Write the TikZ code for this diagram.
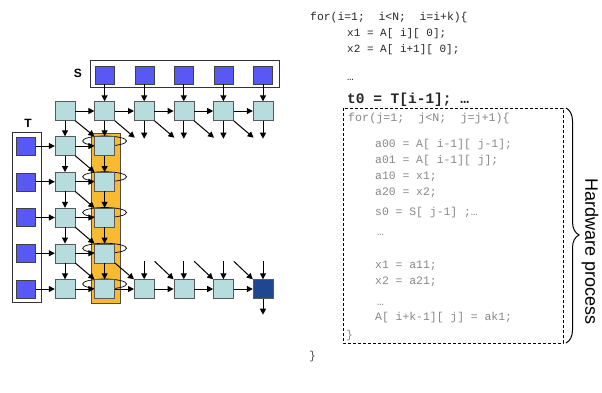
\documentclass[tikz,border=0pt]{standalone}
\usepackage{fontspec}
\setsansfont{Liberation Sans}
\newfontfamily\codefont{Liberation Mono}
\usetikzlibrary{arrows.meta,decorations.pathreplacing}

\definecolor{memblue}{RGB}{88,88,245}
\definecolor{pecyan}{RGB}{182,220,222}
\definecolor{outblue}{RGB}{30,70,145}
\definecolor{colgold}{RGB}{248,186,48}
\definecolor{codegray}{RGB}{135,135,135}

\tikzset{
  mem/.style={draw=black!75, fill=memblue, minimum width=19pt, minimum height=18pt, inner sep=0pt},
  pe/.style={draw=black!65, fill=pecyan, minimum width=20pt, minimum height=19pt, inner sep=0pt},
  flow/.style={-{Triangle[length=6pt,width=6pt]}, line width=1pt},
  codeline/.style={anchor=west, inner sep=0pt, text=black!85, font=\codefont\fontsize{11}{13}\selectfont},
  hwline/.style={codeline, text=codegray, font=\codefont\fontsize{11.4}{13}\selectfont},
}

\begin{document}
\begin{tikzpicture}[x=1pt, y=-1pt]
    \useasboundingbox (0,0) rectangle (602,392);

    % S and T memories, gold column
    \node[draw=black!80, line width=0.8pt, minimum width=189pt, minimum height=27pt] (sbox) at (184.5,73.5) {};
    \node[font=\sffamily\bfseries\fontsize{12}{12}\selectfont] (slab) at (78,73) {S};
    \node[draw=black!80, line width=0.8pt, minimum width=29pt, minimum height=170pt] (tbox) at (26.5,217) {};
    \node[font=\sffamily\bfseries\fontsize{12}{12}\selectfont] (tlab) at (28,123) {T};
    \node[draw=black!70, fill=colgold, minimum width=29pt, minimum height=170pt] (gold) at (105.5,218) {};

    \foreach \y in {146,181.75,217.5,253.25,289}
        \draw[line width=0.7pt] (104.6,\y-5) ellipse (22pt and 5pt);

    % cells
    \foreach \k/\x in {1/104.6,2/144.2,3/183.8,4/223.4,5/263}
        \node[mem] (s\k) at (\x,75) {};
    \foreach \k/\x in {0/65,1/104.6,2/144.2,3/183.8,4/223.4,5/263}
        \node[pe] (p0\k) at (\x,111) {};
    \foreach \r/\y in {1/146,2/181.75,3/217.5,4/253.25,5/289} {
        \node[mem] (t\r) at (26,\y) {};
        \node[pe] (p\r0) at (65,\y) {};
        \node[pe] (p\r1) at (104.6,\y) {};
    }
    \node[pe] (p52) at (144.2,289) {};
    \node[pe] (p53) at (183.8,289) {};
    \node[pe] (p54) at (223.4,289) {};
    \node[pe, fill=outblue] (p55) at (263,289) {};

    % top row
    \foreach \k in {1,...,5}
        \draw[flow] (s\k) -- (p0\k);
    \foreach \a/\b in {0/1,1/2,2/3,3/4,4/5}
        \draw[flow] (p0\a) -- (p0\b);
    \foreach \k in {2,...,5}
        \draw[flow] (p0\k.south) -- ++(0,18);
    \foreach \k in {1,...,4}
        \draw[flow] (p0\k.south east) -- ++(20,17);
    \draw[flow] (p00) -- (p10);
    \draw[flow] (p01) -- (p11);
    \draw[flow] (p00.south east) -- (p11.north west);

    % left columns
    \foreach \r in {1,...,5} {
        \draw[flow] (t\r) -- (p\r0);
        \draw[flow] (p\r0) -- (p\r1);
    }
    \foreach \r/\s in {1/2,2/3,3/4,4/5} {
        \draw[flow] (p\r0) -- (p\s0);
        \draw[flow] (p\r1) -- (p\s1);
        \draw[flow] (p\r0.south east) -- (p\s1.north west);
    }

    % bottom row
    \draw[flow] (p41.south east) -- (p52.north west);
    \foreach \a/\b in {1/2,2/3,3/4,4/5}
        \draw[flow] (p5\a) -- (p5\b);
    \foreach \k in {2,...,5}
        \draw[flow] ([yshift=18pt]p5\k.north) -- (p5\k.north);
    \foreach \k in {3,4,5}
        \draw[flow] ([shift={(-19pt,18pt)}]p5\k.north west) -- (p5\k.north west);
    \draw[flow] (p55.south) -- ++(0,16);

    % code
    \node[codeline, font=\codefont\fontsize{11.4}{13}\selectfont] (fori) at (310,18) {for(i=1;~~i<N;~~i=i+k)\{};
    \node[codeline] (xa) at (347,34) {x1 = A[ i][ 0];};
    \node[codeline] (xb) at (347,50) {x2 = A[ i+1][ 0];};
    \node[codeline, anchor=base west] (dta) at (347,80) {…};
    \node[codeline, font=\codefont\bfseries\fontsize{14.5}{16}\selectfont] (tz) at (347,100) {t0 = T[i-1]; …};

    \coordinate (boxtl) at (343,108);
    \coordinate (boxbr) at (563,343);
    \draw[dashed, line width=0.8pt, dash pattern=on 3pt off 2pt] (boxtl) rectangle (boxbr);

    \node[hwline, font=\codefont\fontsize{11.7}{13}\selectfont] (forj) at (348,118) {for(j=1;~~j<N;~~j=j+1)\{};
    \node[hwline] (a00) at (375,145) {a00 = A[ i-1][ j-1];};
    \node[hwline] (a01) at (375,161) {a01 = A[ i-1][ j];};
    \node[hwline] (a10) at (375,177) {a10 = x1;};
    \node[hwline] (a20) at (375,193) {a20 = x2;};
    \node[hwline] (sz) at (375,213) {s0 = S[ j-1] ;…};
    \node[hwline, anchor=base west] (dtb) at (377,235) {…};
    \node[hwline] (xc) at (375,266) {x1 = a11;};
    \node[hwline] (xd) at (375,282) {x2 = a21;};
    \node[hwline, anchor=base west] (dtc) at (377,305) {…};
    \node[hwline] (ak) at (375,318) {A[ i+k-1][ j] = ak1;};
    \node[hwline] (jend) at (346,336) {\}};
    \node[codeline, text=black!70, font=\codefont\fontsize{11.4}{13}\selectfont] (iend) at (309,357) {\}};

    % hardware brace
    \coordinate (bt) at (566,108);
    \coordinate (bb) at (566,343);
    \draw[decorate, decoration={brace, amplitude=13pt, aspect=0.54}, line width=1pt] (bt) -- (bb);
    \node[rotate=-90, font=\sffamily\fontsize{18}{18}\selectfont] (hw) at (590,252) {Hardware process};
\end{tikzpicture}
\end{document}
